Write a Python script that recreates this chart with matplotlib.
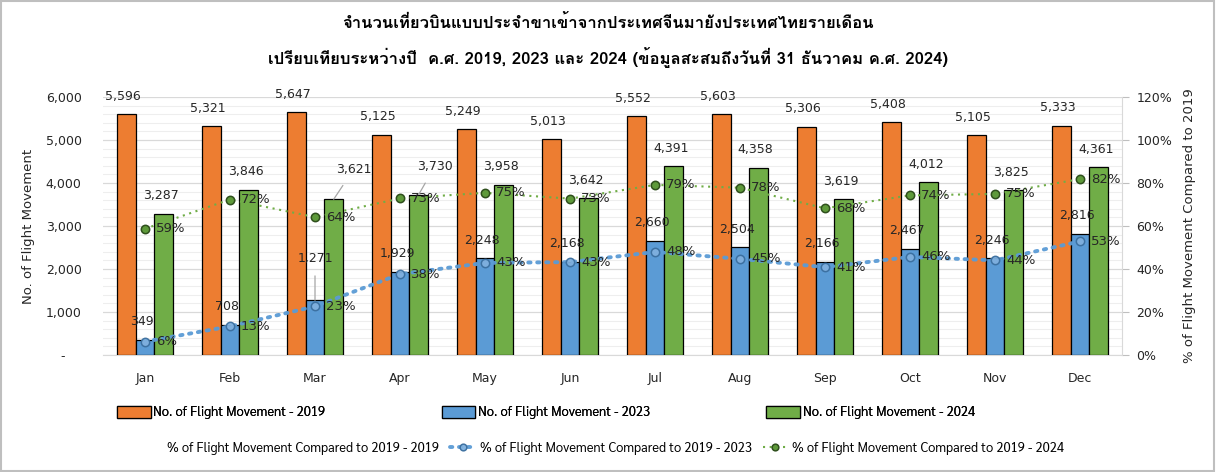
import numpy as np
import matplotlib
matplotlib.use("Agg")
import matplotlib.pyplot as plt
from matplotlib.patches import Patch, Rectangle
from matplotlib.ticker import FuncFormatter, MultipleLocator

months = ["Jan", "Feb", "Mar", "Apr", "May", "Jun",
          "Jul", "Aug", "Sep", "Oct", "Nov", "Dec"]
flights_2019 = [5596, 5321, 5647, 5125, 5249, 5013, 5552, 5603, 5306, 5408, 5105, 5333]
flights_2023 = [349, 708, 1271, 1929, 2248, 2168, 2660, 2504, 2166, 2467, 2246, 2816]
flights_2024 = [3287, 3846, 3621, 3730, 3958, 3642, 4391, 4358, 3619, 4012, 3825, 4361]
pct_2019 = [100, 100, 100, 100, 100, 100, 100, 100, 100, 100, 100, 100]
pct_2023 = [6.2, 13.3, 22.6, 37.6, 42.8, 43.2, 47.9, 44.7, 40.8, 45.6, 44.0, 52.8]
pct_2024 = [58.7, 72.3, 64.1, 72.8, 75.4, 72.7, 79.1, 77.8, 68.2, 74.2, 74.9, 81.8]

title = ("จำนวนเที่ยวบินแบบประจำขาเข้าจากประเทศจีนมายังประเทศไทยรายเดือน\n"
         "เปรียบเทียบระหว่างปี  ค.ศ. 2019, 2023 และ 2024 (ข้อมูลสะสมถึงวันที่ 31 ธันวาคม ค.ศ. 2024)")

ORANGE, BLUE, GREEN = "#ED7D31", "#5B9BD5", "#70AD47"
TXT = "#262626"
plt.rcParams['font.family'] = ['DejaVu Sans']

fig = plt.figure(figsize=(12.16, 4.72), dpi=100)
ax = fig.add_axes([0.0843, 0.248, 0.8388, 0.5466])
ax2 = ax.twinx()
ax.set_zorder(ax2.get_zorder() - 1)
ax.patch.set_visible(False)

x = np.arange(len(months))
w = 0.22
ax.bar(x - w, flights_2019, w, color=ORANGE, edgecolor="black", lw=0.9, zorder=3)
ax.bar(x, flights_2023, w, color=BLUE, edgecolor="black", lw=0.9, zorder=3)
ax.bar(x + w, flights_2024, w, color=GREEN, edgecolor="black", lw=0.9, zorder=3)

ax.set_xlim(-0.5, len(months) - 0.5)
ax.set_ylim(0, 6000)
ax.yaxis.set_major_locator(MultipleLocator(1000))
ax.yaxis.set_minor_locator(MultipleLocator(200))
ax.yaxis.set_major_formatter(FuncFormatter(lambda v, p: "-    " if v == 0 else f"{int(v):,}"))
ax.grid(axis="y", which="major", color="#d9d9d9", lw=0.9, zorder=0)
ax.grid(axis="y", which="minor", color="#eeeeee", lw=0.8, zorder=0)
ax.set_xticks(x)
ax.set_xticklabels(months)
ax.tick_params(axis="x", length=0, pad=12, labelsize=9, labelcolor=TXT)
ax.tick_params(axis="y", which="both", length=0, pad=15, labelsize=9, labelcolor=TXT)
for s in ["left", "right", "top"]:
    ax.spines[s].set_visible(False)
ax.spines["bottom"].set_color("#d9d9d9")
ax.set_ylabel("No. of Flight Movement", fontsize=9.5, color=TXT, labelpad=8)

# percentage lines on the secondary axis
l19, = ax2.plot(x, pct_2019, lw=0, marker="none")
l23, = ax2.plot(x, pct_2023, color=BLUE, lw=2.8, ls=(0, (0.6, 1.7)), dash_capstyle="round",
                marker="o", ms=6, mfc="#7FB0DE", mec="#3A6E9E", mew=1.1, zorder=4, alpha=0.95)
l24, = ax2.plot(x, pct_2024, color=GREEN, lw=1.5, ls=(0, (1, 2.2)),
                marker="o", ms=6, mfc="#5E9A3A", mec="#2F4F1D", mew=1.1, zorder=4)
ax2.set_ylim(0, 120)
ax2.yaxis.set_major_locator(MultipleLocator(20))
ax2.yaxis.set_major_formatter(FuncFormatter(lambda v, p: f"{int(v)}%"))
ax2.tick_params(axis="y", length=5, color="#bfbfbf", pad=5, labelsize=9, labelcolor=TXT)
for s in ["left", "top", "bottom"]:
    ax2.spines[s].set_visible(False)
ax2.spines["right"].set_color("#d9d9d9")
ax2.set_ylabel("% of Flight Movement Compared to 2019", fontsize=9.5, color=TXT, labelpad=8)

# data labels
lead = {("23", 2): (0, 42), ("24", 2): (20, 30), ("24", 3): (16, 28)}
for key, xs, vals in [("19", x - w, flights_2019), ("23", x, flights_2023), ("24", x + w, flights_2024)]:
    for i, (xi, v) in enumerate(zip(xs, vals)):
        off = lead.get((key, i), (-3, 18))
        arrow = dict(arrowstyle="-", color="#a6a6a6", lw=0.9, shrinkA=6, shrinkB=0) if (key, i) in lead else None
        ax.annotate(f"{v:,}", (xi, v), xytext=off, textcoords="offset pixels",
                    ha="center", va="center", fontsize=9, color=TXT, arrowprops=arrow, zorder=6)
for xs, vals in [(x, pct_2023), (x, pct_2024)]:
    for xi, v in zip(xs, vals):
        ax2.annotate(f"{round(v)}%", (xi, v), xytext=(11, 0), textcoords="offset pixels",
                     ha="left", va="center", fontsize=9.5, color=TXT, zorder=6)

# legends
lf = dict(family=["Sarabun", "DejaVu Sans"], size=9.3)
leg1 = fig.legend([Patch(fc=ORANGE, ec="black", lw=0.9), Patch(fc=BLUE, ec="black", lw=0.9),
                   Patch(fc=GREEN, ec="black", lw=0.9)],
                  ["No. of Flight Movement - 2019", "No. of Flight Movement - 2023",
                   "No. of Flight Movement - 2024"],
                  loc="center", bbox_to_anchor=(0.449, 0.126), ncol=3, frameon=False, prop=lf,
                  handlelength=2.6, handleheight=1.1, handletextpad=0.2, columnspacing=9.0)
fig.add_artist(leg1)
fig.legend([l19, l23, l24],
           ["% of Flight Movement Compared to 2019 - 2019",
            "% of Flight Movement Compared to 2019 - 2023",
            "% of Flight Movement Compared to 2019 - 2024"],
           loc="center", bbox_to_anchor=(0.494, 0.05), ncol=3, frameon=False, prop=lf,
           handlelength=2.0, handletextpad=0.3, columnspacing=0.85, markerscale=0.8)

fig.text(0.5, 0.913, title, ha="center", va="center", fontsize=12, fontweight="bold",
         family=["Loma", "Noto Sans Thai Looped", "DejaVu Sans"], color="black", linespacing=1.9)

fig.add_artist(Rectangle((0.001, 0.002), 0.997, 0.996, transform=fig.transFigure,
                         fill=False, ec="#bfbfbf", lw=1.5))
fig.savefig("out.png", dpi=100)
